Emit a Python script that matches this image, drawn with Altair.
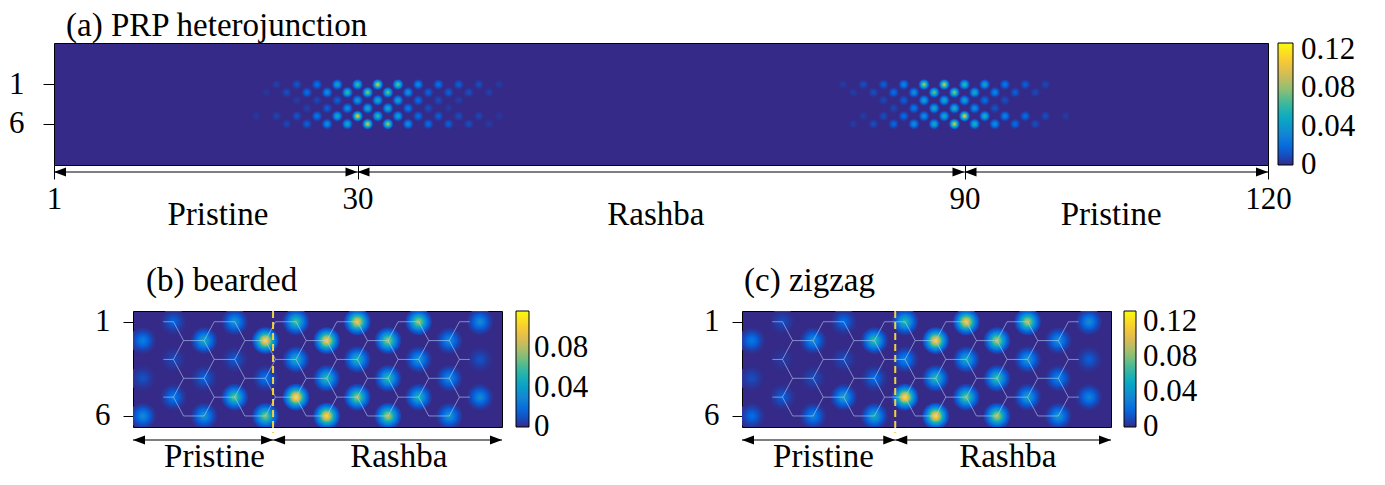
import math
import altair as alt
import pandas as pd

# ---------------- colour map / style ----------------
PARULA = ['#352a87', '#0363e1', '#1485d4', '#06a7c6', '#38b99e',
          '#92bf73', '#d9ba56', '#fcce2e', '#f9fb0e']
FONT = 'Liberation Serif'
FS = 31        # numbers
FS_WORD = 33   # titles and region labels

# ---------------- panel (a) data: |psi|^2 per site ----------------
A_ROWS = [1, 2, 3, 4, 5, 6]
A1_START = [22, 21, 24, 25, 20, 23]
A1_VALS = [
    [0.006, 0.012, 0.022, 0.045, 0.062, 0.088, 0.07, 0.032, 0.022, 0.015, 0.01, 0.005],
    [0.004, 0.01, 0.02, 0.035, 0.06, 0.075, 0.07, 0.036, 0.016, 0.015, 0.01, 0.006],
    [0.005, 0.008, 0.015, 0.04, 0.05, 0.045, 0.02, 0.01, 0.006],
    [0.006, 0.015, 0.035, 0.05, 0.05, 0.025, 0.01, 0.005],
    [0.004, 0.007, 0.012, 0.025, 0.05, 0.095, 0.06, 0.045, 0.02, 0.015, 0.01, 0.008, 0.004],
    [0.008, 0.015, 0.035, 0.05, 0.09, 0.08, 0.035, 0.02, 0.015, 0.01, 0.005],
]
A2_START = [78, 79, 82, 83, 80, 79]
A2_VALS = [
    [0.005, 0.01, 0.015, 0.03, 0.08, 0.088, 0.06, 0.045, 0.025, 0.015, 0.008],
    [0.005, 0.01, 0.02, 0.035, 0.07, 0.075, 0.05, 0.03, 0.015, 0.008],
    [0.008, 0.015, 0.045, 0.05, 0.045, 0.02, 0.01],
    [0.008, 0.025, 0.05, 0.055, 0.035, 0.012],
    [0.005, 0.01, 0.02, 0.035, 0.05, 0.095, 0.055, 0.03, 0.02, 0.01, 0.005],
    [0.005, 0.01, 0.018, 0.035, 0.05, 0.09, 0.055, 0.035, 0.02, 0.01],
]
A_MAX = 0.127
A_BOUNDS = [0, 30, 90, 120]
A_TICK_LABELS = ['1', '30', '90', '120']
A_REGIONS = ['Pristine', 'Rashba', 'Pristine']
A_REGION_X = [16.2, 59.5, 104.5]

# ---------------- panels (b), (c) data ----------------
ODD_ROWS = [1, 3, 5]          # sites at j = 2, 4, ..., 12
EVEN_ROWS = [2, 4, 6]         # sites at j = 1, 3, ..., 11
B_ODD = [
    [0.015, 0.035, 0.06, 0.095, 0.075, 0.03],
    [0.008, 0.012, 0.045, 0.05, 0.035, 0.01],
    [0.022, 0.065, 0.11, 0.075, 0.05, 0.03],
]
B_EVEN = [
    [0.025, 0.045, 0.105, 0.1, 0.075, 0.03],
    [0.01, 0.015, 0.02, 0.055, 0.055, 0.03],
    [0.03, 0.035, 0.07, 0.105, 0.08, 0.035],
]
C_ODD = [
    [0.01, 0.02, 0.06, 0.11, 0.09, 0.035],
    [0.005, 0.01, 0.03, 0.05, 0.04, 0.015],
    [0.015, 0.045, 0.12, 0.075, 0.045, 0.03],
]
C_EVEN = [
    [0.025, 0.035, 0.065, 0.115, 0.09, 0.035],
    [0.01, 0.01, 0.02, 0.06, 0.065, 0.03],
    [0.02, 0.03, 0.05, 0.12, 0.09, 0.04],
]
B_MAX = 0.118
C_MAX = 0.132
B_IFACE = 5.25
C_IFACE = 5.68
BC_XDOM = [0.68, 12.72]
BC_REGIONS = ['Pristine', 'Rashba']
BC_REGION_X = [3.34, 9.35]

# glow layers (radius px, fraction of peak) to mimic gaussian blobs
A_GLOW = [(6, 0.14), (5, 0.3), (4, 0.5), (3, 0.7), (2, 0.9), (1.2, 1.0)]
B_GLOW = [(15, 0.07), (13.5, 0.13), (12, 0.21), (10.5, 0.31), (9, 0.42), (7.5, 0.55),
          (6, 0.68), (4.5, 0.8), (3, 0.92), (1.8, 1.0)]

RIGHT_HEAD = 'M0,0L-2,-0.75L-2,0.75Z'
LEFT_HEAD = 'M0,0L2,-0.75L2,0.75Z'


def glow_frame(sites, glow):
    rows = []
    for (x, y, v) in sites:
        for k, (r, f) in enumerate(glow):
            rows.append({'x': x, 'y': y, 'v': v * f, 'size': math.pi * r * r, 'layer': k})
    return pd.DataFrame(rows)


a_sites = []
for starts, vals in ((A1_START, A1_VALS), (A2_START, A2_VALS)):
    for r, s, vs in zip(A_ROWS, starts, vals):
        for i, v in enumerate(vs):
            a_sites.append((s + 2 * i, r, v))
df_a = glow_frame(a_sites, A_GLOW)


def bc_sites(odd, even):
    out = []
    for r, vs in zip(ODD_ROWS, odd):
        for i, v in enumerate(vs):
            out.append((2 + 2 * i, r, v))
    for r, vs in zip(EVEN_ROWS, even):
        for i, v in enumerate(vs):
            out.append((1 + 2 * i, r, v))
    return out


def lattice_segments():
    segs = []
    for r in range(1, 7):
        js = range(2, 13, 2) if r % 2 == 1 else range(3, 12, 2)
        for j in js:
            x1 = j - 0.33 if j == 2 else j - 0.67
            x2 = j - 0.33 if j == 12 else j
            segs.append({'x1': x1, 'y1': r, 'x2': x2, 'y2': r})
            if j <= 11:
                for dr in (-1, 1):
                    if 1 <= r + dr <= 6:
                        segs.append({'x1': j, 'y1': r, 'x2': j + 0.33, 'y2': r + dr})
    return pd.DataFrame(segs)


def legend(values, length, thick, offset, loff):
    return alt.Legend(title=None, orient='right', offset=offset, padding=0,
                      gradientLength=length, gradientThickness=thick,
                      gradientStrokeColor='black', gradientStrokeWidth=1,
                      values=values, format='.2~f', labelFont=FONT,
                      labelFontSize=FS, labelColor='black', labelOffset=loff,
                      labelOverlap=False, labelBaseline='middle', direction='vertical')


def color_scale(vmax):
    # tiny negative lower bound keeps the "0" label vertically centred on the bar end
    return alt.Scale(domain=[-1e-6, vmax], range=PARULA, interpolate='rgb')


def arrows(xs, xscale, xaxis, ypix):
    df = pd.DataFrame({'start': xs[:-1], 'end': xs[1:]})
    rule = alt.Chart(df).mark_rule(color='black', strokeWidth=1.2).encode(
        x=alt.X('start:Q', scale=xscale, axis=xaxis), x2='end:Q', y=alt.value(ypix))
    rh = alt.Chart(df).mark_point(shape=RIGHT_HEAD, filled=True, color='black',
                                  size=144, opacity=1, strokeWidth=0).encode(
        x=alt.X('end:Q', scale=xscale, axis=xaxis), y=alt.value(ypix))
    lh = alt.Chart(df).mark_point(shape=LEFT_HEAD, filled=True, color='black',
                                  size=144, opacity=1, strokeWidth=0).encode(
        x=alt.X('start:Q', scale=xscale, axis=xaxis), y=alt.value(ypix))
    return [rule, rh, lh]


def region_text(xs, labels, xscale, xaxis, ypix):
    df = pd.DataFrame({'x': xs, 'label': labels})
    return alt.Chart(df).mark_text(font=FONT, fontSize=FS_WORD, color='black',
                                   align='center', baseline='alphabetic').encode(
        x=alt.X('x:Q', scale=xscale, axis=xaxis), y=alt.value(ypix), text='label:N')


# ---------------- panel (a) ----------------
WA, HA = 1214, 122
xa = alt.Scale(domain=[A_BOUNDS[0], A_BOUNDS[-1]], nice=False, zero=False)
ya = alt.Scale(domain=[-4.25, 11.19], nice=False, zero=False, reverse=True)
label_expr = ' : '.join(f"datum.value == {b} ? '{t}'" for b, t in zip(A_BOUNDS, A_TICK_LABELS)) + " : ''"
X_AXIS_A = alt.Axis(values=A_BOUNDS, labelExpr=label_expr, tickSize=14, tickColor='black',
                    tickWidth=1, labelPadding=5, domain=False, grid=False, title=None,
                    labelFlush=False, labelOverlap=False, labelFont=FONT, labelFontSize=FS,
                    labelColor='black')
Y_AXIS_A = alt.Axis(values=[1, 6], tickSize=11, tickColor='black', labelPadding=19,
                    domain=False, grid=False, title=None, labelFont=FONT, labelFontSize=FS,
                    labelColor='black', labelFlush=False, labelOverlap=False)

blobs_a = alt.Chart(df_a).mark_circle(opacity=1, strokeWidth=0, clip=True).encode(
    x=alt.X('x:Q', scale=xa, axis=X_AXIS_A),
    y=alt.Y('y:Q', scale=ya, axis=Y_AXIS_A),
    color=alt.Color('v:Q', scale=color_scale(A_MAX),
                    legend=legend([0, 0.04, 0.08, 0.12], HA, 15, 10, 8)),
    size=alt.Size('size:Q', scale=None),
    order=alt.Order('layer:Q'),
)

chart_a = alt.layer(blobs_a, *arrows(A_BOUNDS, xa, X_AXIS_A, 129),
                    region_text(A_REGION_X, A_REGIONS, xa, X_AXIS_A, 182)).properties(
    width=WA, height=HA,
    title=alt.TitleParams('(a) PRP heterojunction', anchor='start', frame='group', dx=12,
                          offset=0, font=FONT, fontSize=FS_WORD, fontWeight='normal',
                          color='black'),
    view=alt.ViewBackground(fill=PARULA[0], stroke='black', strokeWidth=1),
)

# ---------------- panels (b), (c) ----------------
WB, HB = 369, 116
xb = alt.Scale(domain=BC_XDOM, nice=False, zero=False)
yb = alt.Scale(domain=[0.43, 6.585], nice=False, zero=False, reverse=True)
Y_AXIS_B = alt.Axis(values=[1, 6], tickSize=10, tickColor='black', labelPadding=13,
                    domain=False, grid=False, title=None, labelFont=FONT, labelFontSize=FS,
                    labelColor='black', labelFlush=False, labelOverlap=False)
seg_df = lattice_segments()


def small_panel(odd, even, vmax, values, iface, title, dx, thick, offset, loff):
    df = glow_frame(bc_sites(odd, even), B_GLOW)
    blobs = alt.Chart(df).mark_circle(opacity=1, strokeWidth=0, clip=True).encode(
        x=alt.X('x:Q', scale=xb, axis=None),
        y=alt.Y('y:Q', scale=yb, axis=Y_AXIS_B),
        color=alt.Color('v:Q', scale=color_scale(vmax),
                        legend=legend(values, HB, thick, offset, loff)),
        size=alt.Size('size:Q', scale=None),
        order=alt.Order('layer:Q'),
    )
    lattice = alt.Chart(seg_df).mark_rule(color='#b4cdf6', strokeWidth=1, opacity=0.6).encode(
        x=alt.X('x1:Q', scale=xb, axis=None), x2='x2:Q',
        y=alt.Y('y1:Q', scale=yb, axis=Y_AXIS_B), y2='y2:Q')
    dash = alt.Chart(pd.DataFrame({'x': [iface]})).mark_rule(
        color='#f2d33c', strokeWidth=2, strokeDash=[7, 4]).encode(
        x=alt.X('x:Q', scale=xb, axis=None), y=alt.value(0), y2=alt.value(122))
    layers = [blobs, lattice, dash] + arrows([BC_XDOM[0], iface, BC_XDOM[1]], xb, None, 129) + \
        [region_text(BC_REGION_X, BC_REGIONS, xb, None, 156)]
    return alt.layer(*layers).properties(
        width=WB, height=HB,
        title=alt.TitleParams(title, anchor='start', frame='group', dx=dx, offset=8, font=FONT,
                              fontSize=FS_WORD, fontWeight='normal', color='black'),
        view=alt.ViewBackground(fill=PARULA[0], stroke='black', strokeWidth=1),
    )


chart_b = small_panel(B_ODD, B_EVEN, B_MAX, [0, 0.04, 0.08], B_IFACE, '(b) bearded', 13, 13, 14, 5)
chart_c = small_panel(C_ODD, C_EVEN, C_MAX, [0, 0.04, 0.08, 0.12], C_IFACE, '(c) zigzag', 2, 12, 13, 7)

spacer = alt.Chart(pd.DataFrame({'s': [0]})).mark_point(opacity=0).encode(
    x=alt.X('s:Q', axis=None), y=alt.Y('s:Q', axis=None)
).properties(width=79, height=HB, view=alt.ViewBackground(stroke='transparent', fill='transparent'))

inner = alt.hconcat(chart_b, chart_c, spacing=240, bounds='flush').resolve_scale(
    color='independent').resolve_legend(color='independent')
bottom = alt.hconcat(spacer, inner, spacing=0, bounds='flush').resolve_scale(
    color='independent').resolve_legend(color='independent')
chart = alt.vconcat(chart_a, bottom, spacing=146, bounds='flush').resolve_scale(
    color='independent').resolve_legend(color='independent').properties(
    padding={'top': 1, 'left': 0, 'right': 0, 'bottom': 0}, background='white')

chart.save('out.html', embed_options={'renderer': 'svg', 'actions': False})
